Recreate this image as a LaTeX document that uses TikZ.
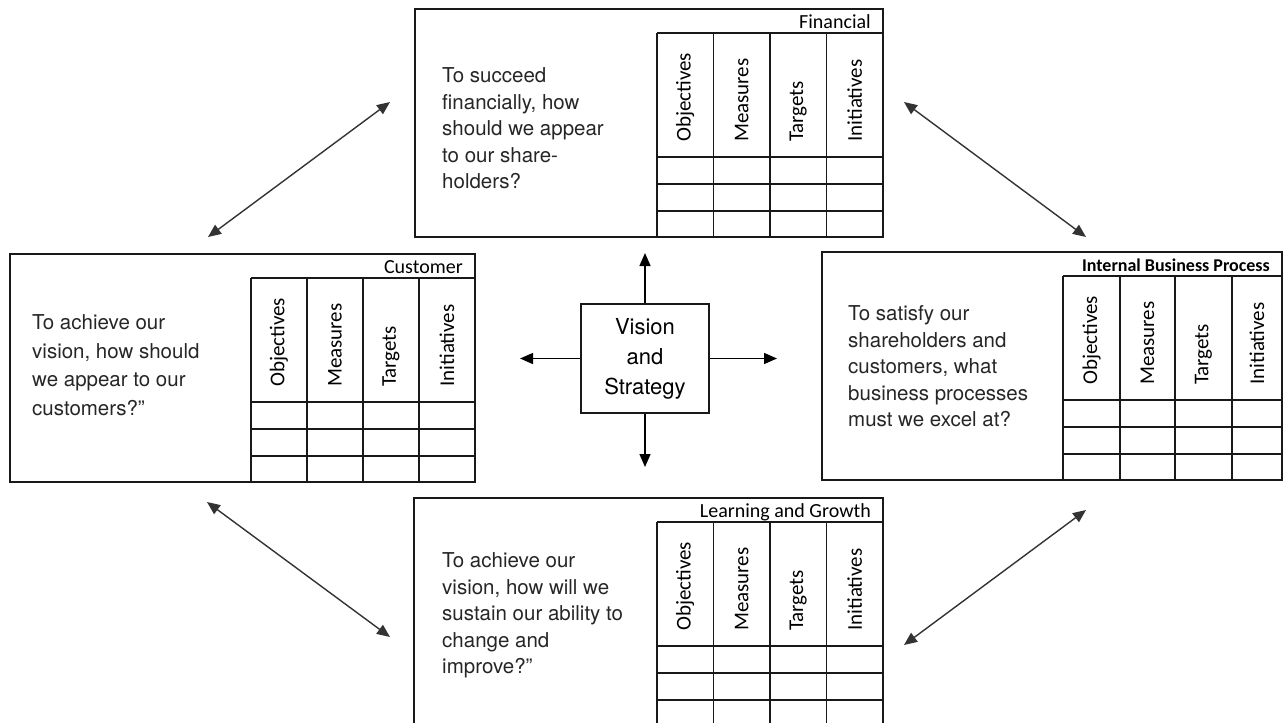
\documentclass[tikz,border=0pt]{standalone}
\usepackage{fontspec}
\setmainfont{TeX Gyre Heros}
\newfontfamily\tabfont{Carlito}
\usetikzlibrary{arrows.meta}
\newcommand\persp[9]{%
  % #1 name, #2 left, #3 top, #4 right, #5..#8 column lines, #9 header label
  \node[box, minimum width={#4-#2}, minimum height=228] (#1) at ({(#2+#4)/2},{#3+114}) {};
  \draw[grid] (#5,#3+24) -- (#4,#3+24);
  \draw[grid] (#5,#3+24) -- (#5,#3+228);
  \draw[grid] (#6,#3+24) -- (#6,#3+228);
  \draw[grid] (#7,#3+24) -- (#7,#3+228);
  \draw[grid] (#8,#3+24) -- (#8,#3+228);
  \foreach \r in {148,175,202} {\draw[grid] (#5,#3+\r) -- (#4,#3+\r);}
  \node[col] (#1o) at ({(#5+#6)/2},{#3+133}) {Objectives};
  \node[col] (#1m) at ({(#6+#7)/2},{#3+133}) {Measures};
  \node[col] (#1t) at ({(#7+#8)/2},{#3+133}) {Targets};
  \node[col] (#1i) at ({(#8+#4)/2},{#3+133}) {Initiatives};
  \node[head] (#1h) at (#4-12,#3+19.5) {#9};
}
\begin{document}
\begin{tikzpicture}[x=1pt,y=-1pt,
  box/.style={draw=black!90, line width=1.4pt, rectangle, inner sep=0pt},
  grid/.style={draw=black!90, line width=1.4pt},
  qtext/.style={font=\fontsize{20.5}{26.5}\selectfont, align=left, inner sep=0pt, anchor=north west, text=black!85},
  col/.style={font=\tabfont\fontsize{21}{25}\selectfont, rotate=90, anchor=west, inner sep=0pt},
  head/.style={font=\tabfont\fontsize{20}{24}\selectfont, anchor=base east, inner sep=0pt},
  link/.style={draw=black!80, line width=1.4pt, {Triangle[length=13pt,width=11pt]}-{Triangle[length=13pt,width=11pt]}},
  outarrow/.style={draw=black, line width=1.4pt, -{Triangle[length=13pt,width=11pt]}}
]
\useasboundingbox (0,0) rectangle (1283,723);
\clip (0,0) rectangle (1283,723);

\persp{fin}{415}{9}{883}{657}{713.5}{770}{826.5}{Financial}
\persp{cus}{10}{254}{475}{251}{307}{363}{419}{Customer}
\persp{ibp}{822}{252}{1282}{1063}{1120}{1175}{1232}{{\bfseries\fontsize{18}{22}\selectfont Internal Business Process}}
\persp{lg}{414}{498}{883}{657}{713.5}{770}{826.5}{Learning and Growth}

\node[qtext] (finq) at (442,67.5) {To succeed\\financially, how\\should we appear\\to our share-\\holders?};
\node[qtext, font=\fontsize{20.5}{28.5}\selectfont] (cusq) at (32,314.5) {To achieve our\\vision, how should\\we appear to our\\customers?”};
\node[qtext] (ibpq) at (848,305.5) {To satisfy our\\shareholders and\\customers, what\\business processes\\must we excel at?};
\node[qtext] (lgq) at (442,552.5) {To achieve our\\vision, how will we\\sustain our ability to\\change and\\improve?”};

\node[box, minimum width=128, minimum height=109, align=center, font=\fontsize{22}{30}\selectfont] (vs) at (645,358.5) {Vision\\and\\Strategy};
\coordinate (vsU) at (645,253);
\coordinate (vsD) at (645,467);
\coordinate (vsL) at (520,358.5);
\coordinate (vsR) at (777,358.5);
\draw[outarrow] (vs.north) -- (vsU);
\draw[outarrow] (vs.south) -- (vsD);
\draw[outarrow] (vs.west) -- (vsL);
\draw[outarrow] (vs.east) -- (vsR);

\coordinate (a1s) at (208,237);
\coordinate (a1e) at (390,102);
\coordinate (a2s) at (904,102);
\coordinate (a2e) at (1086,237);
\coordinate (a3s) at (207,502);
\coordinate (a3e) at (390,637);
\coordinate (a4s) at (904,645);
\coordinate (a4e) at (1086,510);
\draw[link] (a1s) -- (a1e);
\draw[link] (a2s) -- (a2e);
\draw[link] (a3s) -- (a3e);
\draw[link] (a4s) -- (a4e);
\end{tikzpicture}
\end{document}
